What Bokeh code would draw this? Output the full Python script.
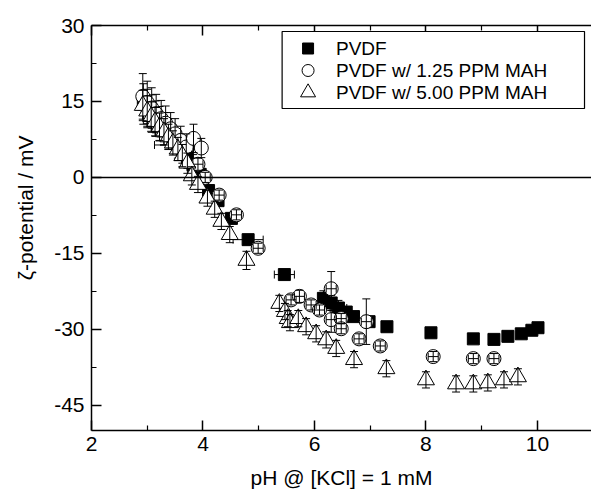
import numpy as np
from bokeh.plotting import figure
from bokeh.models import (Span, LinearAxis, FixedTicker, Range1d, Title)
from bokeh.embed import file_html
from bokeh.resources import INLINE
from bokeh.core.properties import value

# ---------------- data ----------------
x_ticks = [2, 4, 6, 8, 10]
x_minor = [3, 5, 7, 9]
y_ticks = [-45, -30, -15, 0, 15, 30]
y_tick_labels = ["-45", "-30", "-15", "0", "15", "30"]
y_minor = [-37.5, -22.5, -7.5, 7.5, 22.5]

series_names = ["PVDF", "PVDF w/ 1.25 PPM MAH", "PVDF w/ 5.00 PPM MAH"]

sq_x = [2.93, 3.00, 3.08, 3.15, 3.22, 3.30, 3.38, 3.46, 3.55, 3.63, 3.72, 3.82, 3.95,
        4.10, 4.27, 4.51, 4.81, 5.46, 6.16, 6.30, 6.43, 6.57, 6.70, 6.98, 7.30, 8.09,
        8.85, 9.22, 9.47, 9.71, 9.90, 10.01]
sq_y = [14.5, 13.6, 12.6, 11.6, 10.6, 9.6, 8.6, 7.5, 6.4, 5.2, 4.0, 2.5, 0.6,
        -2.6, -4.6, -8.1, -12.3, -19.2, -23.9, -24.8, -25.8, -26.6, -27.5, -28.5, -29.5, -30.7,
        -31.9, -32.0, -31.4, -30.9, -30.2, -29.7]
sq_yerr = [4.0, 3.8, 3.7, 3.5, 3.4, 3.2, 3.0, 2.8, 2.6, 2.4, 2.2, 2.0, 1.5,
           1.0, 1.0, 1.0, 0.8, 0.8, 1.5, 1.5, 1.5, 1.0, 1.0, 1.0, 0.5, 0.5,
           0.5, 0.5, 0.5, 0.5, 0.5, 0.5]
sq_xerr = [0, 0, 0, 0, 0, 0, 0, 0, 0.42, 0, 0, 0, 0,
           0, 0, 0, 0.27, 0.18, 0, 0, 0.15, 0, 0, 0, 0, 0,
           0, 0, 0, 0, 0, 0]

ci_x = [2.92, 3.00, 3.08, 3.16, 3.25, 3.33, 3.42, 3.50, 3.60, 3.70, 3.83, 3.97, 3.91,
        4.04, 4.29, 4.60, 4.99, 5.58, 5.73, 5.94, 6.09, 6.30, 6.30, 6.48, 6.48, 6.80,
        6.93, 7.18, 8.13, 8.85, 9.22]
ci_y = [16.0, 14.8, 13.7, 12.6, 11.6, 10.7, 9.6, 8.6, 7.3, 6.0, 7.7, 5.8, 2.6,
        0.0, -3.5, -7.4, -14.0, -24.2, -23.5, -25.2, -26.2, -22.0, -28.1, -27.9, -29.9, -31.9,
        -28.5, -33.3, -35.4, -35.8, -35.8]
ci_yerr = [4.5, 4.2, 4.0, 3.8, 3.6, 3.4, 3.2, 3.0, 2.8, 2.6, 2.8, 1.9, 1.2,
           1.0, 1.0, 1.0, 1.0, 1.0, 1.2, 1.0, 1.0, 3.4, 2.5, 1.0, 1.0, 1.0,
           4.5, 1.0, 1.0, 1.0, 1.0]
ci_xerr = [0, 0, 0, 0, 0, 0, 0, 0, 0, 0, 0, 0, 0.09,
           0.09, 0.09, 0.09, 0.09, 0.09, 0.09, 0.09, 0.09, 0.09, 0.09, 0.09, 0.09, 0.09,
           0.09, 0.09, 0.09, 0.09, 0.09]

tr_x = [2.92, 3.00, 3.07, 3.14, 3.22, 3.30, 3.38, 3.46, 3.55, 3.63, 3.72, 3.80, 3.91,
        4.08, 4.21, 4.33, 4.48, 4.78, 5.37, 5.47, 5.52, 5.56, 5.71, 5.85, 6.03, 6.21,
        6.39, 6.71, 7.29, 8.00, 8.54, 8.85, 9.11, 9.40, 9.65]
tr_y = [14.2, 13.1, 12.0, 11.0, 10.0, 9.0, 8.0, 6.8, 5.6, 4.3, 2.8, 0.3, -1.4,
        -4.1, -6.3, -8.7, -11.3, -16.4, -24.9, -26.5, -27.9, -28.7, -27.9, -29.5, -30.9, -32.1,
        -33.8, -36.0, -37.8, -40.0, -40.8, -40.8, -40.6, -40.0, -39.4]
tr_yerr = [3.0, 3.0, 2.9, 2.8, 2.7, 2.6, 2.5, 2.4, 2.3, 2.2, 2.0, 1.8, 1.6,
           1.6, 1.6, 1.6, 1.6, 1.8, 1.6, 1.6, 1.6, 1.6, 1.6, 1.6, 1.6, 1.6,
           1.6, 1.6, 1.6, 1.6, 1.6, 1.6, 1.6, 1.6, 1.6]

FONT = "Liberation Sans"

# frame: 501 x 405 px
FRAME_W, FRAME_H = 501, 405

p = figure(width=591, height=497, output_backend="svg", toolbar_location=None,
           x_range=Range1d(2, 10.97), y_range=Range1d(-50, 30),
           min_border_left=90, min_border_right=0, min_border_top=25, min_border_bottom=67)
p.grid.visible = False
p.outline_line_color = None
p.background_fill_color = "white"
# pixel ranges of the frame (origin top-left), used only to lay out the legend box
p.extra_x_ranges = {"px": Range1d(0, FRAME_W)}
p.extra_y_ranges = {"py": Range1d(FRAME_H, 0)}


def style_axis(ax, major, minor):
    ax.ticker = FixedTicker(ticks=major, minor_ticks=minor)
    ax.axis_line_width = 1.5
    ax.axis_line_color = "black"
    ax.major_tick_in = 10
    ax.major_tick_out = 0
    ax.minor_tick_in = 5
    ax.minor_tick_out = 0
    ax.major_tick_line_width = 1.5
    ax.minor_tick_line_width = 1.2
    ax.major_tick_line_color = "black"
    ax.minor_tick_line_color = "black"
    ax.major_label_text_font = FONT
    ax.major_label_text_font_size = "21px"
    ax.major_label_text_color = "black"


style_axis(p.xaxis[0], x_ticks, x_minor)
style_axis(p.yaxis[0], y_ticks, y_minor)
p.yaxis[0].major_label_overrides = {t: s for t, s in zip(y_ticks, y_tick_labels)}
p.xaxis[0].major_label_standoff = 6
p.yaxis[0].major_label_standoff = 7
p.xaxis[0].axis_label = "pH @ [KCl] = 1 mM"
p.xaxis[0].axis_label_text_font = FONT
p.xaxis[0].axis_label_text_font_size = "21px"
p.xaxis[0].axis_label_text_font_style = "normal"
p.xaxis[0].axis_label_text_color = "black"
p.xaxis[0].axis_label_standoff = 12

# y-axis title: a side title whose end sits 110 px below the frame top
ytitle = Title(text="ζ-potential / mV", align="right", offset=110, vertical_align="top",
               standoff=26, text_font=FONT, text_font_size="21px", text_font_style="normal",
               text_color="black")
p.add_layout(ytitle, "left")

top = LinearAxis()
style_axis(top, x_ticks, x_minor)
top.major_label_overrides = {t: "" for t in x_ticks}
top.major_label_text_font_size = "1px"
top.major_label_standoff = 0
p.add_layout(top, "above")

p.add_layout(Span(location=0, dimension="width", line_color="black", line_width=1.5))


def err_data(xs, ys, yerr, xerr):
    vx = [x for x, e in zip(xs, yerr) if e > 0]
    vy0 = [y - e for y, e in zip(ys, yerr) if e > 0]
    vy1 = [y + e for y, e in zip(ys, yerr) if e > 0]
    hy = [y for y, e in zip(ys, xerr) if e > 0]
    hx0 = [x - e for x, e in zip(xs, xerr) if e > 0]
    hx1 = [x + e for x, e in zip(xs, xerr) if e > 0]
    return vx, vy0, vy1, hy, hx0, hx1


def draw_err(xs, ys, yerr, xerr, cap=8):
    vx, vy0, vy1, hy, hx0, hx1 = err_data(xs, ys, yerr, xerr)
    p.segment(vx, vy0, vx, vy1, line_color="black", line_width=1)
    p.scatter(vx + vx, vy0 + vy1, marker="dash", size=cap, line_color="black", line_width=1)
    if hy:
        p.segment(hx0, hy, hx1, hy, line_color="black", line_width=1)
        p.scatter(hx0 + hx1, hy + hy, marker="dash", size=cap, angle=np.pi / 2,
                  line_color="black", line_width=1)


MARKERS = [dict(marker="square", size=12, fill_color="black"),
           dict(marker="circle", size=14, fill_color="white"),
           dict(marker="triangle", size=17, fill_color="white")]

# squares (PVDF)
draw_err(sq_x, sq_y, sq_yerr, sq_xerr)
p.scatter(sq_x, sq_y, line_color="black", **MARKERS[0])
# circles (1.25 PPM)
p.scatter(ci_x, ci_y, line_color="black", line_width=1, **MARKERS[1])
draw_err(ci_x, ci_y, ci_yerr, ci_xerr)
# triangles (5.00 PPM)
p.scatter(tr_x, tr_y, line_color="black", line_width=1, **MARKERS[2])
draw_err(tr_x, tr_y, tr_yerr, [0] * len(tr_x))

# ---------------- legend box (frame pixel layout) ----------------
LEG_LEFT, LEG_RIGHT, LEG_TOP, LEG_BOTTOM = 191, 494, 6, 83
LEG_MARK_X, LEG_TEXT_X = 217, 245
LEG_ROWS = [23, 45, 67]
LEG_SIZES = [11, 12, 15]

p.quad(left=[LEG_LEFT], right=[LEG_RIGHT], top=[LEG_TOP], bottom=[LEG_BOTTOM],
       fill_color="white", line_color="black", line_width=1.2,
       x_range_name="px", y_range_name="py", level="overlay")
for row, mk, sz in zip(LEG_ROWS, MARKERS, LEG_SIZES):
    p.scatter([LEG_MARK_X], [row], marker=mk["marker"], size=sz, fill_color=mk["fill_color"],
              line_color="black", line_width=1, x_range_name="px", y_range_name="py",
              level="overlay")
p.text(x=[LEG_TEXT_X] * 3, y=LEG_ROWS, text=series_names, text_font=value(FONT),
       text_font_size="19px", text_baseline="middle", text_align="left", text_color="black",
       x_range_name="px", y_range_name="py", level="overlay")

open("out.html", "w").write(file_html(p, INLINE))
